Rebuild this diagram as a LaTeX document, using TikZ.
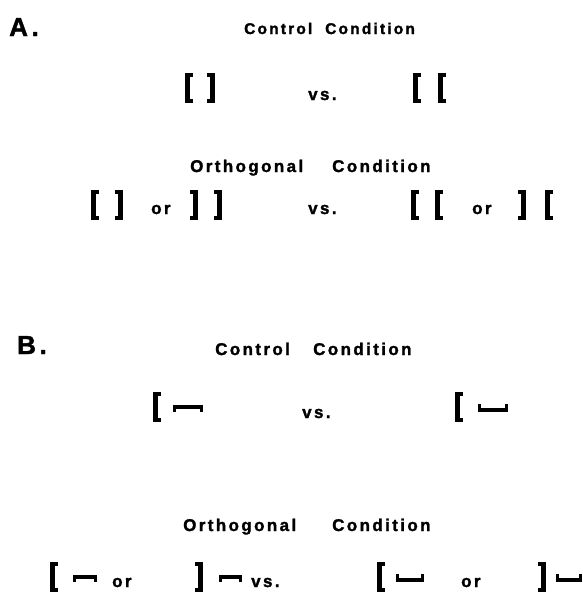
\documentclass[tikz,border=0pt]{standalone}
\usepackage{fontspec}
\newfontfamily\hb[LetterSpace=14,FakeBold=1.6]{Liberation Sans Bold}
\tikzset{
  txt/.style={anchor=base west, inner sep=0pt, font=\hb\fontsize{17}{20}\selectfont},
  smalltxt/.style={txt, font=\hb\fontsize{15.5}{19}\selectfont},
  bigtxt/.style={txt, font=\hb\fontsize{26}{30}\selectfont},
}
% left bracket: x left, top, bottom
\newcommand{\lbr}[3]{\fill (#1,#2) rectangle ++(4.6,#3-#2); \fill (#1,#2) rectangle ++(8,3.8); \fill (#1,#3) rectangle ++(8,-3.8);}
\newcommand{\rbr}[3]{\fill (#1+8,#2) rectangle ++(-4.6,#3-#2); \fill (#1+8,#2) rectangle ++(-8,3.8); \fill (#1+8,#3) rectangle ++(-8,-3.8);}
% top bar with tips down: x left, width, top of bar
\newcommand{\topbar}[3]{\fill (#1,#3) rectangle ++(#2,3.8); \fill (#1,#3) rectangle ++(2.6,7); \fill (#1+#2,#3) rectangle ++(-2.6,7);}
% bottom bar with tips up: x left, width, bottom of bar
\newcommand{\botbar}[3]{\fill (#1,#3) rectangle ++(#2,-3.8); \fill (#1,#3) rectangle ++(2.6,-8); \fill (#1+#2,#3) rectangle ++(-2.6,-8);}
\begin{document}
\begin{tikzpicture}[x=1pt,y=-1pt]
\useasboundingbox (0,0) rectangle (582,597);
% ---------- A ----------
\node[bigtxt] (labA) at (9,36) {A.};
\node[smalltxt] (ctlA1) at (244,34) {Control};
\node[smalltxt] (ctlA2) at (325,34) {Condition};
\lbr{185}{73}{103}
\rbr{207}{73}{103}
\node[txt] (vsA) at (308,100) {vs.};
\lbr{413}{73}{103}
\lbr{438}{73}{103}

\node[txt] (orthA1) at (190,172) {Orthogonal};
\node[txt] (orthA2) at (332,172) {Condition};
\lbr{91}{190}{220}
\rbr{115}{190}{220}
\node[txt] (orA1) at (151,214) {or};
\rbr{190}{190}{220}
\rbr{214}{190}{220}
\node[txt] (vsA2) at (308,214) {vs.};
\lbr{411}{190}{220}
\lbr{435}{190}{220}
\node[txt] (orA2) at (472,214) {or};
\rbr{518}{190}{220}
\lbr{545}{190}{220}
% ---------- B ----------
\node[bigtxt] (labB) at (17,354) {B.};
\node[txt] (ctlB1) at (215,355) {Control};
\node[txt] (ctlB2) at (313,355) {Condition};
\lbr{153}{392}{422}
\topbar{173}{30}{405}
\node[txt] (vsB) at (302,418) {vs.};
\lbr{455}{392}{422}
\botbar{478}{30}{412}

\node[txt] (orthB1) at (183,531) {Orthogonal};
\node[txt] (orthB2) at (332,531) {Condition};
\lbr{50}{562}{592}
\topbar{73}{24}{575}
\node[txt] (orB1) at (112,587) {or};
\rbr{195}{562}{592}
\topbar{219}{23}{575}
\node[txt] (vsB2) at (251,587) {vs.};
\lbr{377}{562}{592}
\botbar{396}{28}{582}
\node[txt] (orB2) at (461,587) {or};
\rbr{538}{562}{592}
\botbar{556}{26}{582}
\end{tikzpicture}
\end{document}
